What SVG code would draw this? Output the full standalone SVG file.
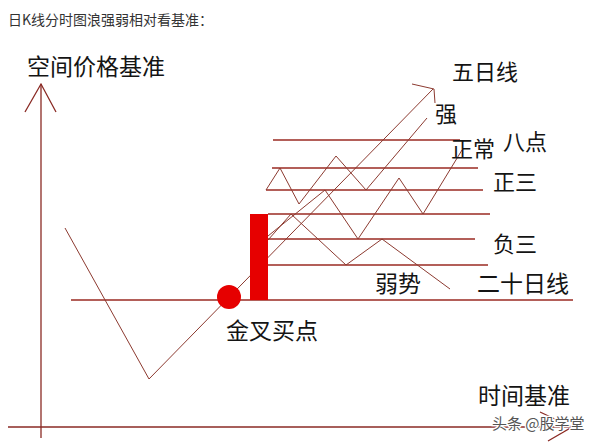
<svg xmlns="http://www.w3.org/2000/svg" width="598" height="445" viewBox="0 0 598 445">
<style>
.bg{fill:#ffffff}
.ax{stroke:#8a2a24;stroke-width:1.3;fill:none}
.hl{stroke:#9a2a22;stroke-width:1.3;fill:none}
.zz{stroke:#8c3a30;stroke-width:1;fill:none;stroke-linejoin:miter}
.red{fill:#e60000}
.lbl{font-family:"Noto Sans CJK SC","Noto Sans",sans-serif;fill:#141414}
.t22{font-size:22px}
.t23{font-size:23px}
.title{font-family:"Noto Sans CJK SC","Noto Sans",sans-serif;font-size:14px;fill:#333333}
.wm{font-family:"Noto Sans CJK SC","Noto Sans",sans-serif;font-size:15px;fill:#555555;stroke:#ffffff;stroke-width:2.5;paint-order:stroke}
</style>
<rect class="bg" x="0" y="0" width="598" height="445"/>
<g id="title"><text class="title" x="8" y="25">日K线分时图浪强弱相对看基准：</text></g>
<g id="connectors">
  <!-- axes -->
  <line class="ax" x1="41" y1="84" x2="41" y2="438"/>
  <polyline class="ax" points="25,112 41,84 56,112"/>
  <line class="ax" x1="8" y1="427" x2="572" y2="427"/>
  <polyline class="ax" points="540,412 572,427 548,441"/>
  <!-- horizontal levels -->
  <line class="hl" x1="71" y1="300" x2="573" y2="300"/>
  <line class="hl" x1="273" y1="140" x2="460" y2="140"/>
  <line class="hl" x1="272" y1="168" x2="478" y2="168"/>
  <line class="hl" x1="266" y1="190" x2="483" y2="190"/>
  <line class="hl" x1="268" y1="214" x2="490" y2="214"/>
  <line class="hl" x1="268" y1="239" x2="475" y2="239"/>
  <line class="hl" x1="268" y1="265" x2="488" y2="265"/>
  <!-- V and main rising line (五日线) -->
  <polyline class="zz" points="65,228 149,379 433,89"/>
  <polyline class="zz" points="412,84 434,89 435,103"/>
  <!-- strong zigzag -->
  <polyline class="zz" points="266,190 280,168 299,204 336,156 366,190 427,118"/>
  <!-- normal zigzag -->
  <polyline class="zz" points="268,236 325,190 358,239 399,178 423,214 462,150"/>
  <!-- weak zigzag -->
  <polyline class="zz" points="268,240 291,214 346,265 382,239 450,289"/>
</g>
<g id="bar"><rect class="red" x="250" y="214" width="18" height="86"/></g>
<g id="cross-point"><circle class="red" cx="229" cy="297" r="12"/></g>
<g id="label-y"><text class="lbl t23" x="27" y="75">空间价格基准</text></g>
<g id="label-x"><text class="lbl t23" x="478" y="404">时间基准</text></g>
<g id="label-5day"><text class="lbl t22" x="452" y="80">五日线</text></g>
<g id="label-strong"><text class="lbl t22" x="435" y="122">强</text></g>
<g id="label-normal"><text class="lbl t22" x="451" y="157">正常</text></g>
<g id="label-eight"><text class="lbl t22" x="503" y="150">八点</text></g>
<g id="label-pos3"><text class="lbl t22" x="493" y="190">正三</text></g>
<g id="label-neg3"><text class="lbl t22" x="493" y="252">负三</text></g>
<g id="label-weak"><text class="lbl t23" x="375" y="292">弱势</text></g>
<g id="label-20day"><text class="lbl t23" x="477" y="292">二十日线</text></g>
<g id="label-golden"><text class="lbl t23" x="226" y="339">金叉买点</text></g>
<g id="watermark"><text class="wm" x="492" y="429">头条 @股学堂</text></g>
</svg>
